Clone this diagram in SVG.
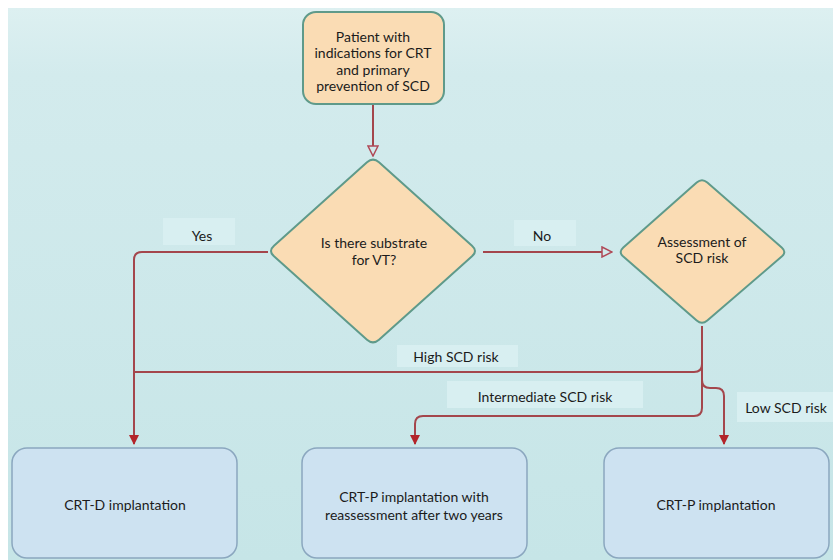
<svg xmlns="http://www.w3.org/2000/svg" width="833" height="560" viewBox="0 0 833 560">
<defs>
<linearGradient id="bg" x1="0" y1="0" x2="0" y2="1">
<stop offset="0" stop-color="#ddf0f1"/>
<stop offset="0.12" stop-color="#d3ebed"/>
<stop offset="1" stop-color="#c6e5e7"/>
</linearGradient>
<marker id="hollow" viewBox="0 0 12 12" refX="11" refY="6" markerWidth="12" markerHeight="12" markerUnits="userSpaceOnUse" orient="auto">
<path d="M1,1 L11,6 L1,11 Z" fill="#d2eaec" stroke="#b04a58" stroke-width="1.5"/>
</marker>
<marker id="solid" viewBox="0 0 10 10" refX="9" refY="5" markerWidth="10" markerHeight="10" markerUnits="userSpaceOnUse" orient="auto">
<path d="M0,0 L10,5 L0,10 Z" fill="#b3242a"/>
</marker>
</defs>
<style>
.t{font-family:Lato,"Liberation Sans",sans-serif;font-size:14px;fill:#1b1b1b;text-anchor:middle}
.tb{font-family:Lato,"Liberation Sans",sans-serif;font-size:14px;fill:#1b1b1b;text-anchor:middle}
.peach{fill:#fadcb4;stroke:#5f9a8a;stroke-width:2}
.blue{fill:#cde2f1;stroke:#8ba7bf;stroke-width:1.5}
.lbl{fill:#d8eff1}
.c{fill:none;stroke:#a4464c;stroke-width:2}
</style>
<rect x="0" y="0" width="833" height="560" fill="#ffffff"/>
<rect x="8" y="8" width="825" height="552" fill="url(#bg)"/>

<g id="connectors">
<path class="c" d="M373,104 L373,156" marker-end="url(#hollow)"/>
<path class="c" d="M268,252 L142,252 Q134,252 134,260 L134,444" marker-end="url(#solid)"/>
<path class="c" d="M483,252 L612,252" marker-end="url(#hollow)"/>
<path class="c" d="M702,326 L702,408 Q702,416 694,416 L423,416 Q415,416 415,424 L415,444" marker-end="url(#solid)"/>
<path class="c" d="M702,364 Q702,372 694,372 L134,372"/>
<path class="c" d="M702,380 Q702,388 710,388 L716,388 Q724,388 724,396 L724,444" marker-end="url(#solid)"/>
</g>

<g id="labels">
<rect class="lbl" x="163" y="218" width="72" height="27"/>
<text class="t" x="202" y="241">Yes</text>
<rect class="lbl" x="514" y="220" width="62" height="26"/>
<text class="t" x="542" y="241">No</text>
<rect class="lbl" x="397" y="345" width="121" height="22"/>
<text class="t" x="456" y="362">High SCD risk</text>
<rect class="lbl" x="447" y="381" width="196" height="27"/>
<text class="t" x="545" y="402">Intermediate SCD risk</text>
<rect class="lbl" x="737" y="392" width="96" height="30"/>
<text class="t" x="786" y="413">Low SCD risk</text>
</g>

<g id="start">
<rect class="peach" x="303" y="12" width="141" height="92" rx="13"/>
<text class="tb" x="373" y="42">Patient with</text>
<text class="tb" x="373" y="58">indications for CRT</text>
<text class="tb" x="373" y="75">and primary</text>
<text class="tb" x="373" y="91">prevention of SCD</text>
</g>

<g id="substrate">
<path class="peach" d="M367,162.3 Q373,157 379,162.3 L472,245.7 Q478,251 472,256.3 L379,339.7 Q373,345 367,339.7 L274,256.3 Q268,251 274,245.7 Z"/>
<text class="tb" x="374" y="248">Is there substrate</text>
<text class="tb" x="374" y="265">for VT?</text>
</g>

<g id="assessment">
<path class="peach" d="M696.7,182.6 Q702,178 707.3,182.6 L781.7,247.4 Q787,252 781.7,256.6 L707.3,320.4 Q702,325 696.7,320.4 L623.3,256.6 Q618,252 623.3,247.4 Z"/>
<text class="tb" x="702" y="247">Assessment of</text>
<text class="tb" x="702" y="263">SCD risk</text>
</g>

<g id="crtd">
<rect class="blue" x="12" y="448" width="225" height="110" rx="15"/>
<text class="t" x="125" y="510">CRT-D implantation</text>
</g>

<g id="crtp-reassess">
<rect class="blue" x="302" y="448" width="225" height="110" rx="15"/>
<text class="t" x="414" y="502">CRT-P implantation with</text>
<text class="t" x="414" y="520">reassessment after two years</text>
</g>

<g id="crtp">
<rect class="blue" x="604" y="448" width="225" height="110" rx="15"/>
<text class="t" x="716" y="510">CRT-P implantation</text>
</g>
</svg>
